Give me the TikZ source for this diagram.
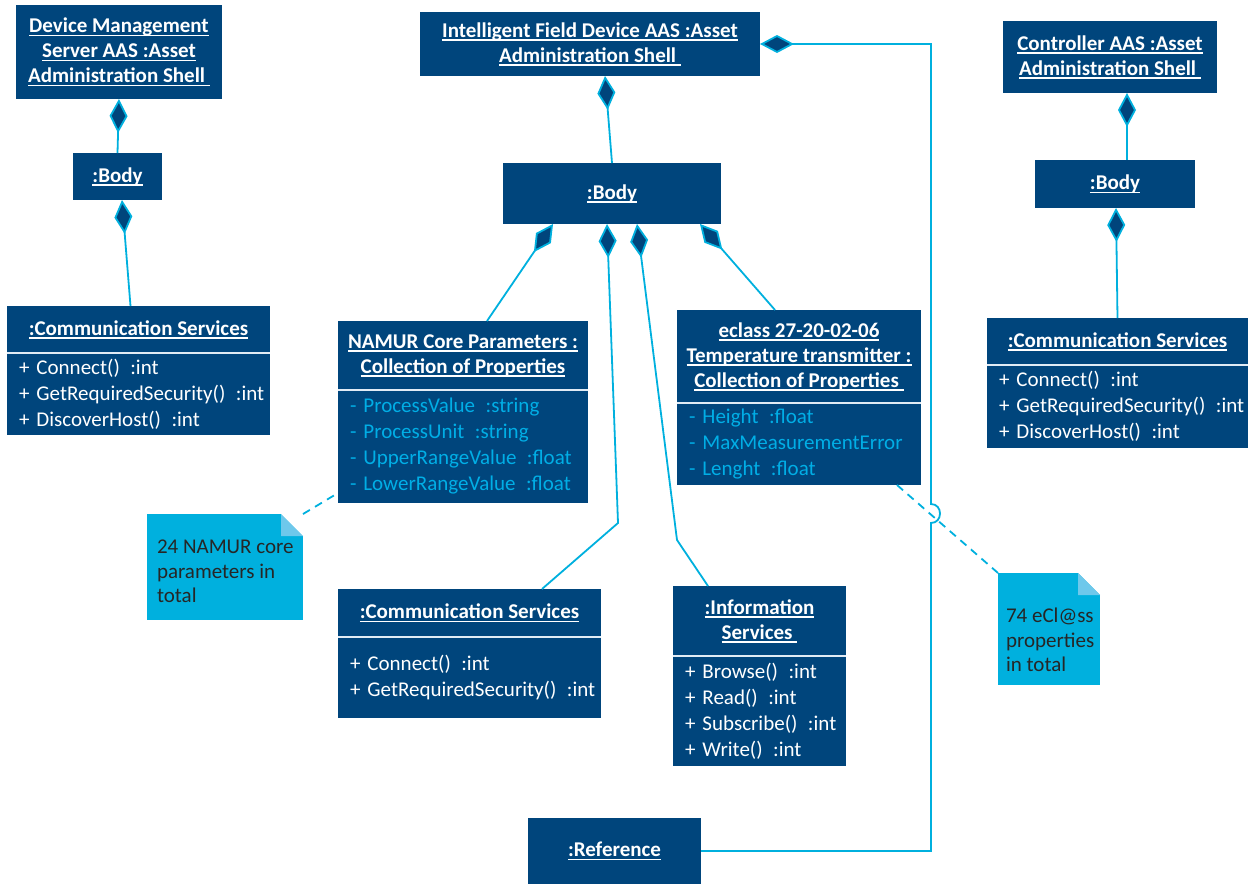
\documentclass[tikz,border=0pt]{standalone}
\usepackage{fontspec}
\setmainfont{Carlito}
\usetikzlibrary{positioning,arrows.meta}
\definecolor{aasblue}{RGB}{0,69,124}
\definecolor{linkcyan}{RGB}{0,176,222}
\definecolor{attrcyan}{RGB}{0,174,230}
\definecolor{notecyan}{RGB}{0,176,222}
\definecolor{foldcyan}{RGB}{110,200,235}
\definecolor{seplight}{RGB}{225,235,245}
\newcommand{\ulhd}[1]{\setbox0\hbox{#1}\rlap{\rule[-1.8pt]{\wd0}{0.7pt}}\box0}
\newcommand{\umlrow}[1]{\mbox{#1}}

\begin{document}
\begin{tikzpicture}[x=0.5pt,y=-0.5pt]
  \tikzstyle{every node}=[outer sep=0pt]
  \tikzstyle{obj}=[fill=aasblue,text=white,align=center,inner sep=0pt,
    font=\bfseries\fontsize{10.5}{12.5}\selectfont]
  \tikzstyle{ops}=[fill=aasblue,text=white,align=left,inner xsep=6pt,inner ysep=0pt,
    font=\fontsize{10.5}{13}\selectfont]
  \tikzstyle{attrs}=[ops,text=attrcyan]
  \tikzstyle{note}=[fill=notecyan,inner sep=0pt]
  \tikzstyle{notetext}=[font=\fontsize{10.5}{12.3}\selectfont,text=black!85,align=left,
    inner sep=0pt,anchor=north west]
  \tikzstyle{comp}=[draw=linkcyan,line width=0.9pt,
    -{Diamond[length=17pt,width=9pt,fill=aasblue]}]
  \tikzstyle{link}=[draw=linkcyan,line width=0.9pt,dash pattern=on 4pt off 3pt]
  \tikzstyle{sep}=[draw=seplight,line width=0.9pt]
  \useasboundingbox (0,0) rectangle (1248,884);

  \node[obj,minimum width=103pt,minimum height=47pt] (dmsaas) at (119,52)
    {\ulhd{Device Management}\\\ulhd{Server AAS :Asset}\\\ulhd{Administration Shell\ }};
  \node[obj,minimum width=44.5pt,minimum height=23.5pt] (dmsbody) at (117.5,176.5) {\ulhd{:Body}};
  \node[obj,minimum width=131.5pt,minimum height=23.5pt] (dmscommhd) at (138.5,329.5)
    {\ulhd{:Communication Services}};
  \node[ops,text width=119.5pt,minimum height=41pt,below=0pt of dmscommhd] (dmscomm)
    {\umlrow{+ Connect()\,\ :int}\\\umlrow{+ GetRequiredSecurity()\,\ :int}\\\umlrow{+ DiscoverHost()\,\ :int}};

  \node[obj,minimum width=170pt,minimum height=32pt] (ifdaas) at (590,44)
    {\ulhd{Intelligent Field Device AAS :Asset}\\\ulhd{Administration Shell\ }};
  \node[obj,minimum width=109pt,minimum height=30.5pt] (ifdbody) at (612,193.5) {\ulhd{:Body}};
  \node[obj,minimum width=125pt,minimum height=34.5pt] (namurhd) at (463,355.5)
    {\ulhd{NAMUR Core Parameters :}\\\ulhd{Collection of Properties}};
  \node[attrs,text width=113pt,minimum height=56.5pt,below=0pt of namurhd] (namur)
    {\umlrow{- ProcessValue\,\ :string}\\\umlrow{- ProcessUnit\,\ :string}\\
     \umlrow{- UpperRangeValue\,\ :float}\\\umlrow{- LowerRangeValue\,\ :float}};
  \node[obj,minimum width=122pt,minimum height=46.5pt] (eclasshd) at (799,356.5)
    {\ulhd{eclass 27-20-02-06}\\\ulhd{Temperature transmitter :}\\\ulhd{Collection of Properties\ }};
  \node[attrs,text width=110pt,minimum height=41pt,below=0pt of eclasshd] (eclass)
    {\umlrow{- Height\,\ :float}\\\umlrow{- MaxMeasurementError}\\\umlrow{- Lenght\,\ :float}};
  \node[obj,minimum width=131.5pt,minimum height=24pt] (ifdcommhd) at (469.5,613)
    {\ulhd{:Communication Services}};
  \node[ops,text width=119.5pt,minimum height=40.5pt,below=0pt of ifdcommhd] (ifdcomm)
    {\umlrow{+ Connect()\,\ :int}\\\umlrow{+ GetRequiredSecurity()\,\ :int}};
  \node[obj,minimum width=86.5pt,minimum height=35pt] (infohd) at (759.5,621)
    {\ulhd{:Information}\\\ulhd{Services\ }};
  \node[ops,text width=74.5pt,minimum height=55pt,below=0pt of infohd] (info)
    {\umlrow{+ Browse()\,\ :int}\\\umlrow{+ Read()\,\ :int}\\\umlrow{+ Subscribe()\,\ :int}\\\umlrow{+ Write()\,\ :int}};
  \node[obj,minimum width=86.5pt,minimum height=33pt] (ref) at (614.5,851) {\ulhd{:Reference}};

  \node[obj,minimum width=107pt,minimum height=36pt] (ctrlaas) at (1110,57)
    {\ulhd{Controller AAS :Asset}\\\ulhd{Administration Shell\ }};
  \node[obj,minimum width=80pt,minimum height=24pt] (ctrlbody) at (1115,184) {\ulhd{:Body}};
  \node[obj,minimum width=130.5pt,minimum height=23.5pt] (ctrlcommhd) at (1117.5,341.5)
    {\ulhd{:Communication Services}};
  \node[ops,text width=118.5pt,minimum height=41.5pt,below=0pt of ctrlcommhd] (ctrlcomm)
    {\umlrow{+ Connect()\,\ :int}\\\umlrow{+ GetRequiredSecurity()\,\ :int}\\\umlrow{+ DiscoverHost()\,\ :int}};

  \draw[sep] (dmscommhd.south west) -- (dmscommhd.south east);
  \draw[sep] (namurhd.south west) -- (namurhd.south east);
  \draw[sep] (eclasshd.south west) -- (eclasshd.south east);
  \draw[sep] (ifdcommhd.south west) -- (ifdcommhd.south east);
  \draw[sep] (infohd.south west) -- (infohd.south east);
  \draw[sep] (ctrlcommhd.south west) -- (ctrlcommhd.south east);

  \node[note,minimum width=78pt,minimum height=53pt] (note1) at (225,567) {};
  \fill[white] ([xshift=-11pt]note1.north east) -- (note1.north east)
    -- ([yshift=-11pt]note1.north east) -- cycle;
  \fill[foldcyan] ([xshift=-11pt]note1.north east) -- ([xshift=-11pt,yshift=-11pt]note1.north east)
    -- ([yshift=-11pt]note1.north east) -- cycle;
  \node[notetext] (note1txt) at ([xshift=5pt,yshift=-13pt]note1.north west)
    {24 NAMUR core\\parameters in\\total};
  \node[note,minimum width=51pt,minimum height=56pt] (note2) at (1049,629) {};
  \fill[white] ([xshift=-11pt]note2.north east) -- (note2.north east)
    -- ([yshift=-11pt]note2.north east) -- cycle;
  \fill[foldcyan] ([xshift=-11pt]note2.north east) -- ([xshift=-11pt,yshift=-11pt]note2.north east)
    -- ([yshift=-11pt]note2.north east) -- cycle;
  \node[notetext] (note2txt) at ([xshift=4pt,yshift=-17.5pt]note2.north west)
    {74 eCl@ss\\properties\\in total};

  \draw[comp] (dmsbody.north) -- (dmsaas.south);
  \draw[comp] ([xshift=-4pt]dmscommhd.north) -- ([xshift=2.25pt]dmsbody.south);

  \coordinate (cbend) at (618,523);
  \coordinate (ibend) at (677,540);
  \draw[comp] (ifdbody.north) -- ([xshift=7.5pt]ifdaas.south);
  \draw[comp] ([xshift=12pt]namurhd.north) -- ([xshift=-29.5pt]ifdbody.south);
  \draw[comp] ([xshift=36.25pt]ifdcommhd.north) -- (cbend) -- ([xshift=-2.5pt]ifdbody.south);
  \draw[comp] ([xshift=-25.75pt]infohd.north) -- (ibend) -- ([xshift=12.5pt]ifdbody.south);
  \draw[comp] ([xshift=-12pt]eclasshd.north) -- ([xshift=44pt]ifdbody.south);

  \draw[comp] ([xshift=6pt]ctrlbody.north) -- ([xshift=8.5pt]ctrlaas.south);
  \draw[comp] (ctrlcommhd.north) -- ([xshift=0.5pt]ctrlbody.south);

  \coordinate (refc) at (931,851);
  \coordinate (hopb) at (931,523);
  \coordinate (hopt) at (931,504);
  \coordinate (aasc) at (refc |- ifdaas.east);
  \draw[comp] (ref.east) -- (refc) -- (hopb) .. controls +(6pt,0) and +(6pt,0) .. (hopt)
    -- (aasc) -- (ifdaas.east);

  \draw[link] (note1.north east) -- ([yshift=5pt]namur.south west);
  \draw[link] ([xshift=-12pt]eclass.south east) -- (note2.north west);
\end{tikzpicture}
\end{document}
